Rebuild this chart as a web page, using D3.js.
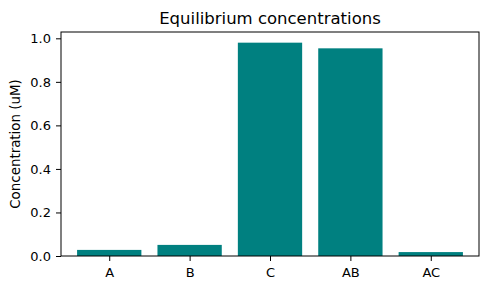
<!DOCTYPE html>
<html>
<head>
<meta charset="utf-8">
<script src="https://cdn.jsdelivr.net/npm/d3@7"></script>
<style>
  body { margin: 0; background: #fff; }
  text { font-family: "DejaVu Sans", sans-serif; fill: #000; }
</style>
</head>
<body>
<div id="chart"></div>
<script>
const species = ["A", "B", "C", "AB", "AC"];
const concentrations = [0.028, 0.051, 0.98, 0.954, 0.018];
const yTicks = [0.0, 0.2, 0.4, 0.6, 0.8, 1.0];

const W = 490, H = 290;
const margin = { top: 32, right: 11, bottom: 34, left: 61 };
const width = W - margin.left - margin.right;
const height = H - margin.top - margin.bottom;

const svg = d3.select("#chart")
  .append("svg")
  .attr("width", W)
  .attr("height", H);

const g = svg.append("g")
  .attr("transform", `translate(${margin.left},${margin.top})`);

// matplotlib style: bars of width 0.8 at integer positions, 0.6 padding
const x = d3.scaleLinear()
  .domain([-0.6, species.length - 0.4])
  .range([0, width]);

const yMax = d3.max(concentrations) * 1.05;
const y = d3.scaleLinear()
  .domain([0, yMax])
  .range([height, 0]);

g.selectAll(".bar")
  .data(concentrations)
  .enter()
  .append("rect")
  .attr("class", "bar")
  .attr("x", (d, i) => x(i - 0.4))
  .attr("width", x(0.8) - x(0))
  .attr("y", d => y(d))
  .attr("height", d => y(0) - y(d))
  .attr("fill", "#008080");

const xAxis = d3.axisBottom(x)
  .tickValues(species.map((d, i) => i))
  .tickFormat(i => species[i])
  .tickSize(5)
  .tickPadding(7);

const yAxis = d3.axisLeft(y)
  .tickValues(yTicks)
  .tickFormat(d3.format(".1f"))
  .tickSize(5)
  .tickPadding(5);

const xg = g.append("g")
  .attr("transform", `translate(0,${height})`)
  .call(xAxis);
const yg = g.append("g").call(yAxis);

[xg, yg].forEach(a => {
  a.select(".domain").remove();
  a.selectAll("text").style("font-size", "13px").style("font-family", "DejaVu Sans");
  a.selectAll("line").attr("stroke", "#000").attr("stroke-width", 1);
});

// frame (spines)
g.append("rect")
  .attr("x", 0).attr("y", 0)
  .attr("width", width).attr("height", height)
  .attr("fill", "none")
  .attr("stroke", "#000")
  .attr("stroke-width", 1);

svg.append("text")
  .attr("x", margin.left + width / 2)
  .attr("y", margin.top - 8)
  .attr("text-anchor", "middle")
  .style("font-size", "16.5px")
  .text("Equilibrium concentrations");

svg.append("text")
  .attr("transform", `translate(20,${margin.top + height / 2}) rotate(-90)`)
  .attr("text-anchor", "middle")
  .style("font-size", "13.4px")
  .text("Concentration (uM)");
</script>
</body>
</html>
